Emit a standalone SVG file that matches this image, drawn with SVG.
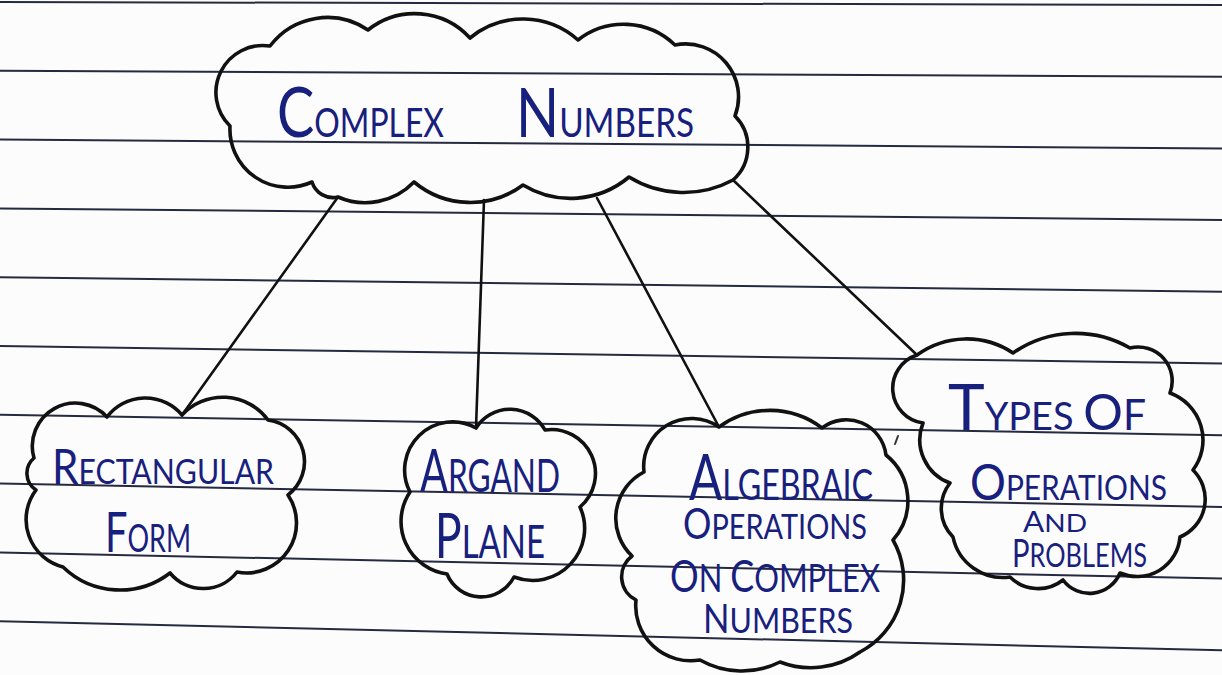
<svg xmlns="http://www.w3.org/2000/svg" width="1222" height="675" viewBox="0 0 1222 675">
<style>
.rule{stroke:#262a40;stroke-width:2;fill:none}
.cloud{fill:none;stroke:#111;stroke-width:3.6;stroke-linejoin:round;stroke-linecap:round}
.conn{stroke:#111;stroke-width:2.6;stroke-linecap:round;fill:none}
.t{font-family:Lato,"Liberation Sans",sans-serif;font-weight:400;fill:#18207d}
</style>
<rect width="1222" height="675" fill="#fcfcfd"/>
<g id="ruling">
<line class="rule" x1="0" y1="2" x2="1222" y2="5"/>
<line class="rule" x1="0" y1="70.8" x2="1222" y2="76.7"/>
<line class="rule" x1="0" y1="139.6" x2="1222" y2="148.4"/>
<line class="rule" x1="0" y1="208.4" x2="1222" y2="220"/>
<line class="rule" x1="0" y1="277.2" x2="1222" y2="291.8"/>
<line class="rule" x1="0" y1="346" x2="1222" y2="363.5"/>
<line class="rule" x1="0" y1="414.8" x2="1222" y2="435.2"/>
<line class="rule" x1="0" y1="483.6" x2="1222" y2="507"/>
<line class="rule" x1="0" y1="552.4" x2="1222" y2="578.6"/>
<line class="rule" x1="0" y1="621.2" x2="1222" y2="650.3"/>
</g>
<g id="connectors">
<line class="conn" x1="338" y1="197" x2="182" y2="415"/>
<line class="conn" x1="484" y1="200" x2="476" y2="428"/>
<line class="conn" x1="597" y1="198" x2="719" y2="427"/>
<line class="conn" x1="733" y1="180" x2="917" y2="355"/>
</g>
<g id="complex-numbers">
<path class="cloud" d="M 230 126 A 47 47 0 0 1 270 46 A 72 72 0 0 1 368 30 A 75 75 0 0 1 470 38 A 83 83 0 0 1 578 40 A 74 74 0 0 1 675 45 A 53 53 0 0 1 735 116 A 44 44 0 0 1 733 180 A 104 104 0 0 1 629 177 A 91 91 0 0 1 523 185 A 88 88 0 0 1 414 182 A 68 68 0 0 1 338 197 A 22 22 0 0 1 312 182 A 58 58 0 0 1 230 126 Z"/>
<text class="t" x="277" y="137" textLength="167" lengthAdjust="spacingAndGlyphs"><tspan font-size="70">C</tspan><tspan font-size="40">OMPLEX</tspan></text>
<text class="t" x="516" y="137" textLength="178" lengthAdjust="spacingAndGlyphs"><tspan font-size="68">N</tspan><tspan font-size="40">UMBERS</tspan></text>
</g>
<g id="rectangular-form">
<path class="cloud" d="M 34 458 A 43 43 0 0 1 107 417 A 48 48 0 0 1 182 415 A 56 56 0 0 1 268 420 A 42 42 0 0 1 288 495 A 50 50 0 0 1 237 572 A 43 43 0 0 1 170 573 A 82 82 0 0 1 63 567 A 49 49 0 0 1 36 490 A 20 20 0 0 1 34 458 Z"/>
<text class="t" x="52" y="484" textLength="222" lengthAdjust="spacingAndGlyphs"><tspan font-size="49">R</tspan><tspan font-size="35">ECTANGULAR</tspan></text>
<text class="t" x="105" y="552" textLength="86" lengthAdjust="spacingAndGlyphs"><tspan font-size="56">F</tspan><tspan font-size="38">ORM</tspan></text>
</g>
<g id="argand-plane">
<path class="cloud" d="M 410 492 A 48 48 0 0 1 476 428 A 40 40 0 0 1 545 430 A 44 44 0 0 1 580 507 A 52 52 0 0 1 514 577 A 37 37 0 0 1 447 574 A 53 53 0 0 1 410 492 Z"/>
<text class="t" x="420" y="492" textLength="140" lengthAdjust="spacingAndGlyphs"><tspan font-size="60">A</tspan><tspan font-size="46">RGAND</tspan></text>
<text class="t" x="435" y="558" textLength="110" lengthAdjust="spacingAndGlyphs"><tspan font-size="62">P</tspan><tspan font-size="46">LANE</tspan></text>
</g>
<g id="algebraic-operations">
<path class="cloud" d="M 644 472 A 48 48 0 0 1 719 427 A 86 86 0 0 1 822 428 A 40 40 0 0 1 886 455 A 59 59 0 0 1 893 540 A 81 81 0 0 1 860 652 A 85 85 0 0 1 780 662 A 85 85 0 0 1 700 660 A 55 55 0 0 1 636 600 A 26 26 0 0 1 632 556 A 52 52 0 0 1 644 472 Z"/>
<text class="t" x="689" y="500" textLength="184" lengthAdjust="spacingAndGlyphs"><tspan font-size="64">A</tspan><tspan font-size="42">LGEBRAIC</tspan></text>
<text class="t" x="683" y="539" textLength="184" lengthAdjust="spacingAndGlyphs"><tspan font-size="43">O</tspan><tspan font-size="35">PERATIONS</tspan></text>
<text class="t" x="670" y="592" textLength="210" lengthAdjust="spacingAndGlyphs"><tspan font-size="44">O</tspan><tspan font-size="38">N </tspan><tspan font-size="44">C</tspan><tspan font-size="38">OMPLEX</tspan></text>
<text class="t" x="703" y="633" textLength="150" lengthAdjust="spacingAndGlyphs"><tspan font-size="40">N</tspan><tspan font-size="35">UMBERS</tspan></text>
</g>
<g id="types-of-operations">
<path class="cloud" d="M 917 355 A 84 84 0 0 1 1013 353 A 109 109 0 0 1 1130 348 A 34 34 0 0 1 1170 393 A 50 50 0 0 1 1193 470 A 41 41 0 0 1 1180 537 A 43 43 0 0 1 1120 573 A 33 33 0 0 1 1063 580 A 40 40 0 0 1 1010 577 A 51 51 0 0 1 953 537 A 41 41 0 0 1 950 483 A 46 46 0 0 1 923 423 A 35 35 0 0 1 917 355 Z"/>
<text class="t" x="948" y="430" textLength="198" lengthAdjust="spacingAndGlyphs"><tspan font-size="64">T</tspan><tspan font-size="39">YPES </tspan><tspan font-size="51">O</tspan><tspan font-size="42">F</tspan></text>
<text class="t" x="970" y="500" textLength="197" lengthAdjust="spacingAndGlyphs"><tspan font-size="51">O</tspan><tspan font-size="34">PERATIONS</tspan></text>
<text class="t" x="1023" y="532" textLength="64" lengthAdjust="spacingAndGlyphs"><tspan font-size="28">A</tspan><tspan font-size="25">ND</tspan></text>
<text class="t" x="1012" y="567" textLength="135" lengthAdjust="spacingAndGlyphs"><tspan font-size="38">P</tspan><tspan font-size="33">ROBLEMS</tspan></text>
</g>
<path d="M 895 444 L 898 436" stroke="#333" stroke-width="2" fill="none" stroke-linecap="round"/>
</svg>
